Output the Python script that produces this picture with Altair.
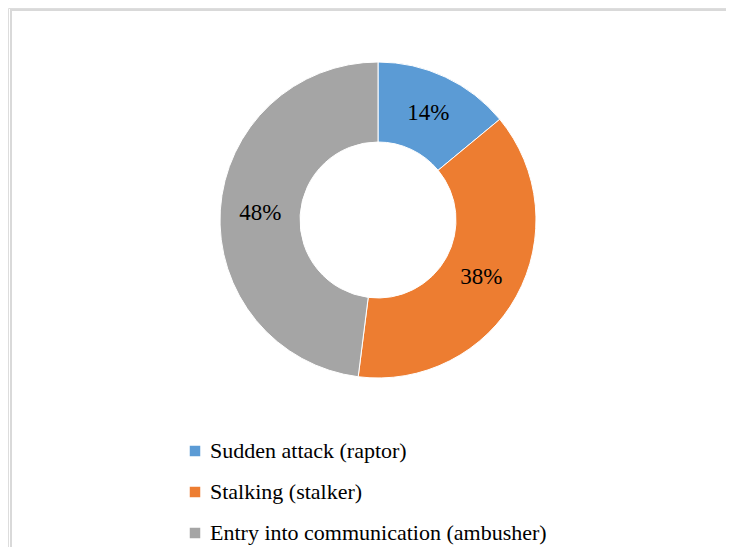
import altair as alt
import pandas as pd

categories = ["Sudden attack (raptor)", "Stalking (stalker)", "Entry into communication (ambusher)"]
values = [14, 38, 48]
labels = ["14%", "38%", "48%"]
colors = ["#5B9BD5", "#ED7D31", "#A5A5A5"]

df = pd.DataFrame({"cat": categories, "value": values, "label": labels, "idx": [0, 1, 2]})

W, H = 718, 539
CX, CY = 370, 212
SERIF = "'Liberation Serif', 'Times New Roman', 'DejaVu Serif', serif"

color_enc = alt.Color(
    "cat:N",
    scale=alt.Scale(domain=categories, range=colors),
    sort=categories,
    legend=alt.Legend(
        title=None,
        orient="none",
        legendX=176,
        legendY=432,
        symbolType="square",
        symbolSize=110,
        symbolStrokeWidth=0,
        labelFont=SERIF,
        labelFontSize=22,
        labelColor="#000000",
        rowPadding=19,
        labelOffset=4,
        labelLimit=600,
    ),
)

base = alt.Chart(df)

arc = base.mark_arc(innerRadius=78, outerRadius=158, x=CX, y=CY, stroke="#ffffff", strokeWidth=1).encode(
    theta=alt.Theta("value:Q", stack=True),
    order=alt.Order("idx:Q"),
    color=color_enc,
)

text = base.mark_text(radius=118, x=CX, y=CY, font=SERIF, fontSize=23, color="#000000").encode(
    theta=alt.Theta("value:Q", stack=True),
    order=alt.Order("idx:Q"),
    text="label:N",
)

frame = alt.Chart(pd.DataFrame({"a": [0]})).mark_rect(
    fill=None, stroke="#d9d9d9", strokeWidth=2
).encode(
    x=alt.value(3), y=alt.value(2), x2=alt.value(W + 20), y2=alt.value(H + 20)
)

chart = alt.layer(frame, arc, text).properties(
    width=W, height=H, padding=0, autosize=alt.AutoSizeParams(type="none")
).configure_view(stroke=None).configure(background="#ffffff", font=SERIF).configure_legend(
    labelFont=SERIF
)

chart.save("out.html", embed_options={"renderer": "svg", "actions": False})
